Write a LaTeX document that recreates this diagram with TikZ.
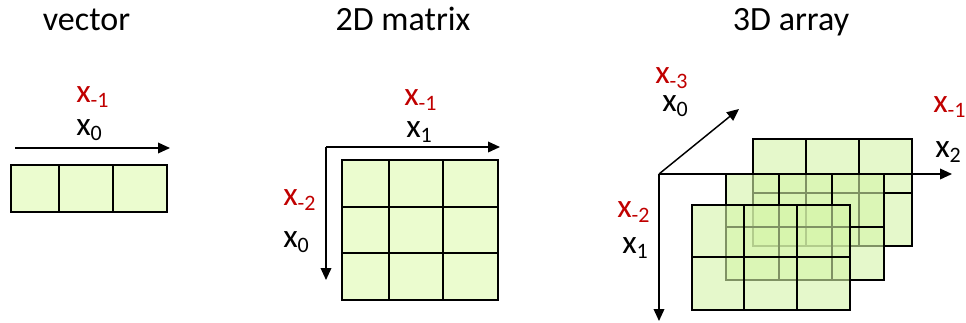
\documentclass[tikz,border=0pt]{standalone}
\usepackage{fontspec}
\setmainfont{Carlito}
\usetikzlibrary{arrows.meta}
\definecolor{cellgreen}{RGB}{235,252,207}
\definecolor{cellgreenB}{RGB}{212,244,168}
\definecolor{idxred}{RGB}{192,0,0}
\newcommand{\myidx}[1]{x\raisebox{-3.8pt}{\fontsize{16.5pt}{18pt}\selectfont #1}}
\tikzset{
  gridline/.style={line width=1.3pt, black},
  layer/.style={line width=1.3pt, black, fill=cellgreenB, fill opacity=0.6},
  axis/.style={line width=1.1pt, -{Triangle[length=9pt,width=8pt]}},
  title/.style={font=\fontsize{25.5pt}{30pt}\selectfont, anchor=base, inner sep=0pt},
  lab/.style={font=\fontsize{25pt}{30pt}\selectfont, anchor=base west, inner sep=0pt},
  redlab/.style={lab, text=idxred},
}
\begin{document}
\begin{tikzpicture}[x=0.75pt, y=-0.75pt]
\useasboundingbox (0,0) rectangle (966,322);

% titles
\node[title] (t1) at (86.5,30) {vector};
\node[title] (t2) at (403,30) {2D matrix};
\node[title] (t3) at (791,30) {3D array};

% ---------- vector ----------
\draw[gridline, fill=cellgreen] (11,165) rectangle (167,212);
\draw[gridline] (59,165) -- (59,212) (113,165) -- (113,212);
\coordinate (vs) at (15,148);
\coordinate (ve) at (170,148);
\draw[axis] (vs) -- (ve);
\node[redlab] (v1) at (76,102) {\myidx{-1}};
\node[lab] (v0) at (76,135) {\myidx{0}};

% ---------- matrix ----------
\draw[gridline, fill=cellgreen] (342,160) rectangle (498,300);
\draw[gridline] (389,160) -- (389,300) (443,160) -- (443,300)
                (342,207) -- (498,207) (342,253) -- (498,253);
\coordinate (mo) at (326,147);
\coordinate (mx) at (500,147);
\coordinate (my) at (326,280);
\draw[axis] (mo) -- (mx);
\draw[axis] (mo) -- (my);
\node[redlab] (m1) at (404,105) {\myidx{-1}};
\node[lab] (m2) at (406,137) {\myidx{1}};
\node[redlab] (m3) at (283,205) {\myidx{-2}};
\node[lab] (m4) at (283,247) {\myidx{0}};

% ---------- 3D array ----------
% back layer
\draw[layer] (753,139) rectangle (912,246);
\draw[gridline] (806,139) -- (806,246) (859,139) -- (859,246) (753,193) -- (912,193);
% middle layer
\draw[layer] (726,174) rectangle (884,280);
\draw[gridline] (779,174) -- (779,280) (832,174) -- (832,280) (726,227) -- (884,227);
% front layer
\draw[layer] (692,205) rectangle (850,310);
\draw[gridline] (744,205) -- (744,310) (797,205) -- (797,310) (692,257) -- (850,257);

\coordinate (ao) at (659,174);
\coordinate (ax) at (952,174);
\coordinate (ay) at (659,321);
\coordinate (az) at (739,109);
\draw[axis] (ao) -- (ax);
\draw[axis] (ao) -- (ay);
\draw[axis] (ao) -- (az);
\node[redlab] (a1) at (655,83) {\myidx{-3}};
\node[lab] (a2) at (662,111) {\myidx{0}};
\node[redlab] (a3) at (933,112) {\myidx{-1}};
\node[lab] (a4) at (935,157) {\myidx{2}};
\node[redlab] (a5) at (617,217) {\myidx{-2}};
\node[lab] (a6) at (622,253) {\myidx{1}};
\end{tikzpicture}
\end{document}
